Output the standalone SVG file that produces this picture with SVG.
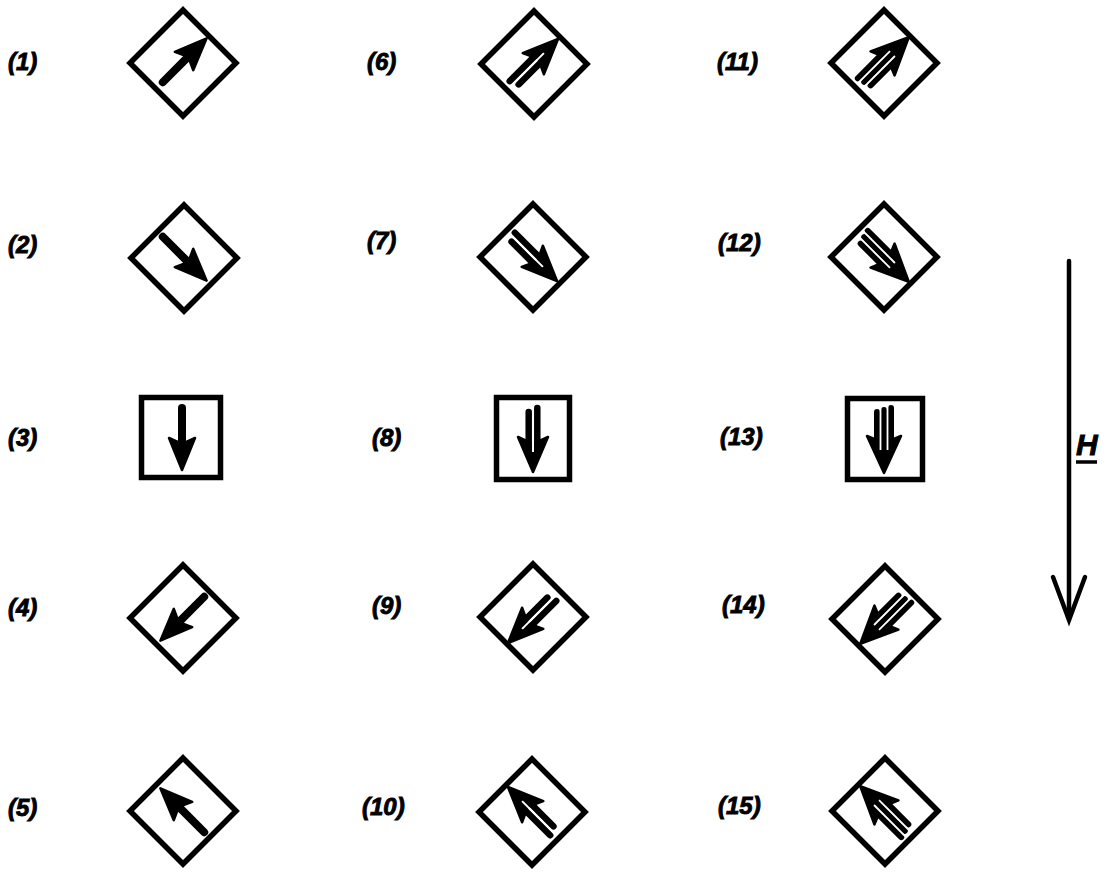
<svg xmlns="http://www.w3.org/2000/svg" xmlns:xlink="http://www.w3.org/1999/xlink" width="1111" height="874" viewBox="0 0 1111 874">
<style>
.lbl{font-family:"Liberation Sans",Arial,sans-serif;font-weight:bold;font-style:italic;font-size:24px;fill:#000;stroke:#000;stroke-width:0.9}
.frame{fill:none;stroke:#000;stroke-width:5.5;stroke-linejoin:miter}
.shaft{stroke:#000;stroke-linecap:round;fill:none}
.gap{stroke:#fff;fill:none}
.head{fill:#000;stroke:#000;stroke-width:2.5;stroke-linejoin:round}
</style>
<defs>
<polygon id="dia" class="frame" points="0,-53 53,0 0,53 -53,0"/>
<g id="a1">
<line class="shaft" x1="-30" y1="0" x2="10" y2="0" stroke-width="8"/>
<polygon class="head" points="32,0 0,-13 6,0 0,13"/>
</g>
<g id="a2">
<line class="shaft" x1="-30" y1="-4.3" x2="10" y2="-4.3" stroke-width="6.5"/>
<line class="shaft" x1="-26" y1="4.3" x2="10" y2="4.3" stroke-width="6.5"/>
<polygon class="head" points="34,0 -1,-15 6,0 -1,15"/>
<line class="gap" x1="-34" y1="0" x2="14" y2="0" stroke-width="2"/>
</g>
<g id="a3">
<line class="shaft" x1="-30" y1="-7" x2="10" y2="-7" stroke-width="6"/>
<line class="shaft" x1="-28" y1="0" x2="10" y2="0" stroke-width="6"/>
<line class="shaft" x1="-26" y1="7" x2="10" y2="7" stroke-width="6"/>
<polygon class="head" points="35,0 -2,-17 5,0 -2,17"/>
<line class="gap" x1="-34" y1="-3.5" x2="12" y2="-3.5" stroke-width="1.8"/>
<line class="gap" x1="-34" y1="3.5" x2="12" y2="3.5" stroke-width="1.8"/>
</g>
</defs>

<g id="n1"><text class="lbl" x="8" y="70">(1)</text><use xlink:href="#dia" x="183" y="63"/><use xlink:href="#a1" transform="translate(184,61) rotate(-45)"/></g>
<g id="n2"><text class="lbl" x="8" y="253">(2)</text><use xlink:href="#dia" x="184" y="258"/><use xlink:href="#a1" transform="translate(184,258) rotate(45)"/></g>
<g id="n3"><text class="lbl" x="8" y="446">(3)</text><rect class="frame" x="141.5" y="397.5" width="79" height="80"/><use xlink:href="#a1" transform="translate(182,438) rotate(90)"/></g>
<g id="n4"><text class="lbl" x="8" y="616">(4)</text><use xlink:href="#dia" x="183" y="618"/><use xlink:href="#a1" transform="translate(183,618) rotate(135)"/></g>
<g id="n5"><text class="lbl" x="8" y="816">(5)</text><use xlink:href="#dia" x="183" y="811"/><use xlink:href="#a1" transform="translate(183,811) rotate(-135)"/></g>

<g id="n6"><text class="lbl" x="367" y="70">(6)</text><use xlink:href="#dia" x="534" y="64"/><use xlink:href="#a2" transform="translate(534,63) rotate(-45)"/></g>
<g id="n7"><text class="lbl" x="367" y="249">(7)</text><use xlink:href="#dia" x="533" y="257"/><use xlink:href="#a2" transform="translate(533,257) rotate(45)"/></g>
<g id="n8"><text class="lbl" x="372" y="446">(8)</text><rect class="frame" x="496.5" y="397.5" width="73" height="82"/><use xlink:href="#a2" transform="translate(533,438) rotate(90)"/></g>
<g id="n9"><text class="lbl" x="372" y="614">(9)</text><use xlink:href="#dia" x="533" y="617"/><use xlink:href="#a2" transform="translate(532,619) rotate(135)"/></g>
<g id="n10"><text class="lbl" x="362" y="815">(10)</text><use xlink:href="#dia" x="532" y="812"/><use xlink:href="#a2" transform="translate(532,811) rotate(-135)"/></g>

<g id="n11"><text class="lbl" x="717" y="70">(11)</text><use xlink:href="#dia" x="884" y="63"/><use xlink:href="#a3" transform="translate(884,62) rotate(-45)"/></g>
<g id="n12"><text class="lbl" x="718" y="251">(12)</text><use xlink:href="#dia" x="884" y="257"/><use xlink:href="#a3" transform="translate(884,257) rotate(45)"/></g>
<g id="n13"><text class="lbl" x="720" y="445">(13)</text><rect class="frame" x="847.5" y="398.5" width="75" height="81"/><use xlink:href="#a3" transform="translate(884,438) rotate(90)"/></g>
<g id="n14"><text class="lbl" x="722" y="613">(14)</text><use xlink:href="#dia" x="885" y="619"/><use xlink:href="#a3" transform="translate(885,619) rotate(135)"/></g>
<g id="n15"><text class="lbl" x="718" y="814">(15)</text><use xlink:href="#dia" x="885" y="811"/><use xlink:href="#a3" transform="translate(885,811) rotate(-135)"/></g>

<g id="field">
<line x1="1069" y1="261" x2="1069" y2="618" stroke="#000" stroke-width="4.5" stroke-linecap="round"/>
<polyline points="1053,577 1069,620 1085,577" fill="none" stroke="#000" stroke-width="4.5" stroke-linecap="round" stroke-linejoin="miter"/>
<text class="lbl" x="1076" y="455" style="font-size:30px">H</text>
<line x1="1076" y1="462" x2="1097" y2="462" stroke="#000" stroke-width="3.5"/>
</g>
</svg>
